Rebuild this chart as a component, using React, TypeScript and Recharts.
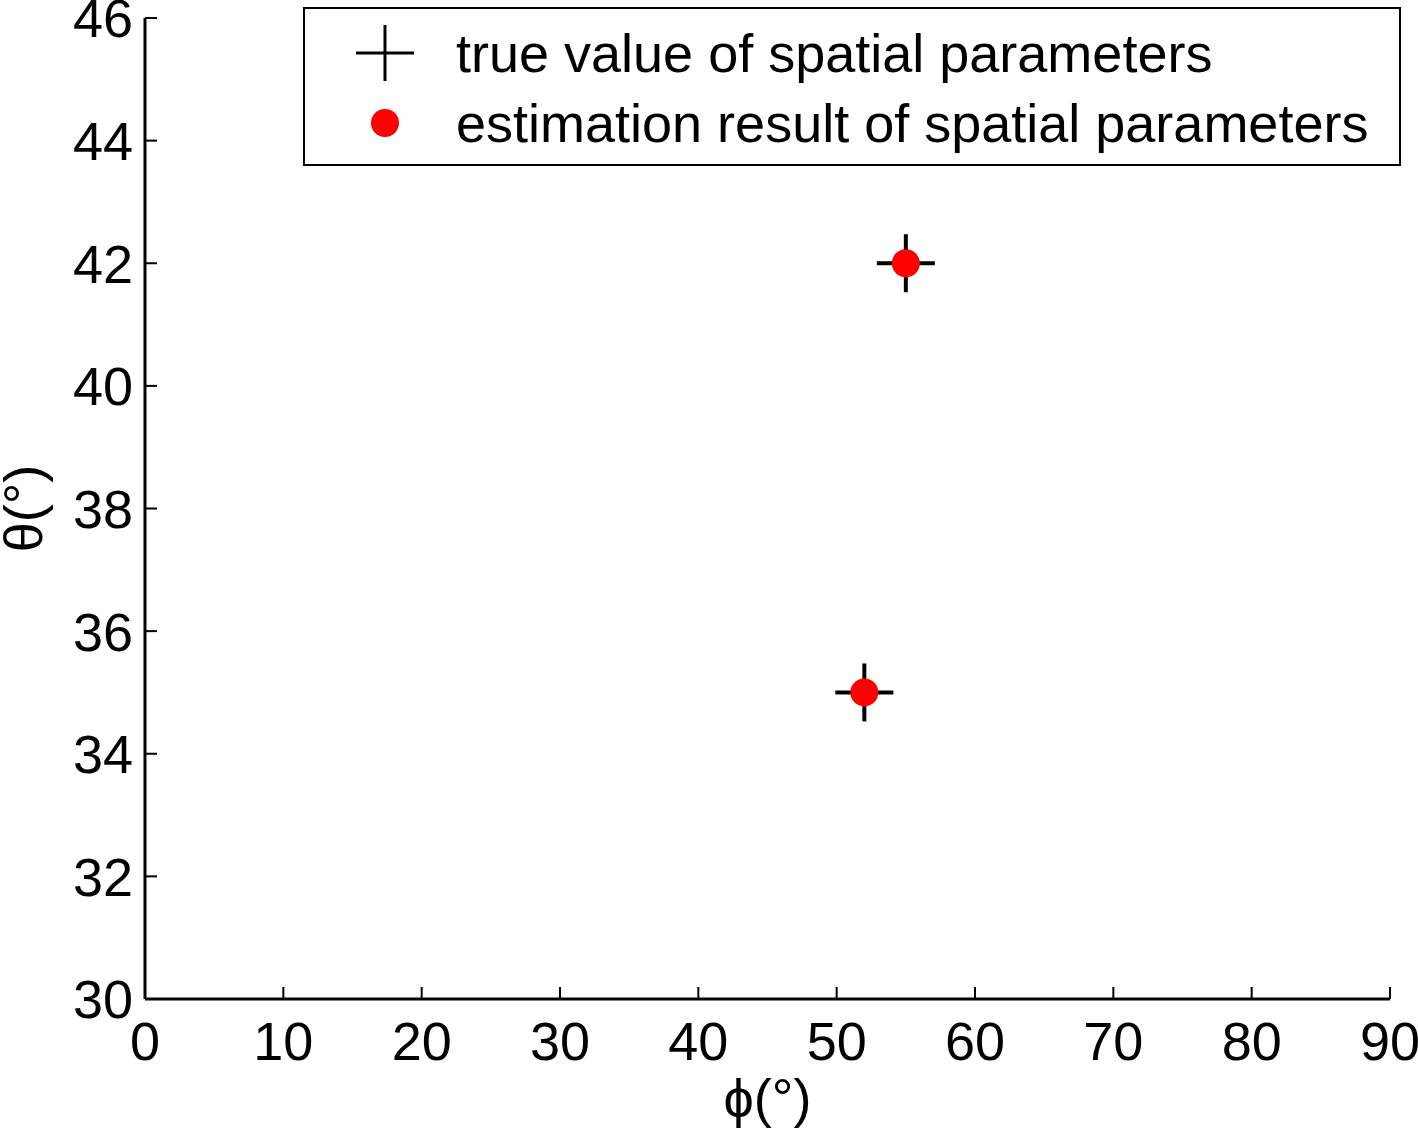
import React from 'react';
import { ScatterChart, Scatter, XAxis, YAxis } from 'recharts';

const phiTicks = [0, 10, 20, 30, 40, 50, 60, 70, 80, 90];
const thetaTicks = [30, 32, 34, 36, 38, 40, 42, 44, 46];

const truePhi = [55, 52];
const trueTheta = [42, 35];
const estPhi = [55, 52];
const estTheta = [42, 35];

const trueData = truePhi.map((phi, i) => ({ phi, theta: trueTheta[i] }));
const estData = estPhi.map((phi, i) => ({ phi, theta: estTheta[i] }));

const FONT = '"Liberation Sans", Arial, sans-serif';
const FS = 54;

const W = 1418;
const H = 1131;
const PLOT_LEFT = 145;
const PLOT_TOP = 18;
const PLOT_RIGHT = 1390;
const PLOT_BOTTOM = 999;

const Plus = (props: any) => {
    const { cx, cy } = props;
    if (cx == null || cy == null) return null;
    return (
        <g>
            <line x1={cx - 29} y1={cy} x2={cx + 29} y2={cy} stroke="#000" strokeWidth={4} />
            <line x1={cx} y1={cy - 29} x2={cx} y2={cy + 29} stroke="#000" strokeWidth={4} />
        </g>
    );
};

const Dot = (props: any) => {
    const { cx, cy } = props;
    if (cx == null || cy == null) return null;
    return <circle cx={cx} cy={cy} r={14} fill="#ff0000" />;
};

const XTick = (props: any) => {
    const { x, payload } = props;
    return (
        <g>
            <line x1={x} y1={PLOT_BOTTOM} x2={x} y2={PLOT_BOTTOM - 12} stroke="#000" strokeWidth={2} />
            <text x={x} y={PLOT_BOTTOM + 22} dy="0.72em" textAnchor="middle" fontFamily={FONT} fontSize={FS} fill="#000">
                {payload.value}
            </text>
        </g>
    );
};

const YTick = (props: any) => {
    const { y, payload } = props;
    return (
        <g>
            <line x1={PLOT_LEFT} y1={y} x2={PLOT_LEFT + 12} y2={y} stroke="#000" strokeWidth={2} />
            <text x={PLOT_LEFT - 12} y={y} dy="0.36em" textAnchor="end" fontFamily={FONT} fontSize={FS} fill="#000">
                {payload.value}
            </text>
        </g>
    );
};

export default function App() {
    return (
        <div style={{ position: 'absolute', left: 0, top: 0, width: W, height: H, background: '#fff' }}>
            <ScatterChart
                width={W}
                height={H}
                margin={{ top: PLOT_TOP, right: W - PLOT_RIGHT, bottom: 0, left: 0 }}
            >
                <XAxis
                    type="number"
                    dataKey="phi"
                    domain={[0, 90]}
                    ticks={phiTicks}
                    interval={0}
                    height={H - PLOT_BOTTOM}
                    tickLine={false}
                    axisLine={{ stroke: '#000', strokeWidth: 3 }}
                    tick={<XTick />}
                    label={(p: any) => {
                        const vb = p.viewBox || {};
                        return (
                            <text x={vb.x + vb.width / 2} y={1117} textAnchor="middle" fontFamily={FONT} fontSize={FS} fill="#000">
                                ϕ(°)
                            </text>
                        );
                    }}
                />
                <YAxis
                    type="number"
                    dataKey="theta"
                    domain={[30, 46]}
                    ticks={thetaTicks}
                    interval={0}
                    width={PLOT_LEFT}
                    tickLine={false}
                    axisLine={{ stroke: '#000', strokeWidth: 3 }}
                    tick={<YTick />}
                    label={(p: any) => {
                        const vb = p.viewBox || {};
                        const cy = vb.y + vb.height / 2;
                        return (
                            <text x={42} y={cy} textAnchor="middle" transform={`rotate(-90, 42, ${cy})`} fontFamily={FONT} fontSize={FS} fill="#000">
                                θ(°)
                            </text>
                        );
                    }}
                />
                <Scatter name="true value of spatial parameters" data={trueData} shape={<Plus />} isAnimationActive={false} />
                <Scatter name="estimation result of spatial parameters" data={estData} shape={<Dot />} isAnimationActive={false} />
            </ScatterChart>
            <svg
                width={1098}
                height={159}
                style={{ position: 'absolute', left: 303, top: 7 }}
            >
                <rect x={1} y={1} width={1096} height={157} fill="#fff" stroke="#000" strokeWidth={2} />
                <line x1={53} y1={46} x2={111} y2={46} stroke="#000" strokeWidth={3} />
                <line x1={82} y1={18} x2={82} y2={74} stroke="#000" strokeWidth={3} />
                <text x={153} y={65} fontFamily={FONT} fontSize={FS} fill="#000">
                    true value of spatial parameters
                </text>
                <circle cx={82} cy={116} r={14} fill="#ff0000" />
                <text x={153} y={135} fontFamily={FONT} fontSize={FS} fill="#000">
                    estimation result of spatial parameters
                </text>
            </svg>
        </div>
    );
}
